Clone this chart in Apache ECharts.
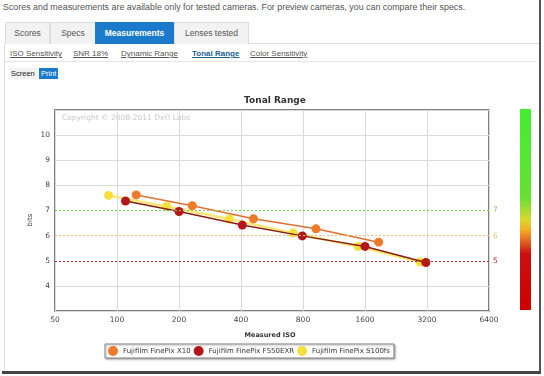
<!DOCTYPE html>
<html>
<head>
<meta charset="utf-8">
<script src="https://cdn.jsdelivr.net/npm/echarts@6/dist/echarts.min.js"></script>
<style>
  body { margin: 0; background: #fff; font-family: 'Liberation Sans', Arial, sans-serif; }
  #page { position: relative; width: 544px; height: 376px; overflow: hidden; }
  .abs { position: absolute; white-space: nowrap; }
  #intro { left: 3px; top: 2px; font-size: 8.9px; color: #555; }
  .tab { top: 22px; height: 21px; line-height: 21px; font-size: 8.5px; color: #555; text-align: center;
         background: #f2f2f2; border: 1px solid #ddd; border-bottom: none; }
  .tab.on { background: #1b7acc; color: #fff; font-weight: bold; border-color: #1b7acc; }
  #panel { left: 4px; top: 43px; width: 534px; height: 328px; border-left: 1px solid #ddd; border-top: 1px solid #ddd; }
  #sep { left: 5px; top: 61px; width: 532px; height: 0; border-top: 1px solid #e4e4e4; }
  #frameR { left: 539px; top: 0; width: 2px; height: 374px; background: #555; }
  #frameB { left: 2px; top: 371px; width: 539px; height: 3px; background: #444; }
  .sub { top: 49px; font-size: 8px; color: #555; text-decoration: underline; }
  .sub.on { color: #1d5f95; font-weight: bold; }
  .mode { top: 68px; height: 11px; line-height: 11px; font-size: 7.5px; padding: 0 2px; }
  #chart { position: absolute; left: 0; top: 0; width: 544px; height: 376px; }
</style>
</head>
<body>
<div id="page">
  <div class="abs" id="intro">Scores and measurements are available only for tested cameras. For preview cameras, you can compare their specs.</div>
  <div class="abs" id="panel"></div>
  <div class="abs" id="sep"></div>
  <div class="abs" id="frameR"></div>
  <div class="abs" id="frameB"></div>
  <div class="abs tab" style="left:5px;width:43px">Scores</div>
  <div class="abs tab" style="left:50px;width:44px">Specs</div>
  <div class="abs tab on" style="left:95px;width:77px">Measurements</div>
  <div class="abs tab" style="left:174px;width:73px">Lenses tested</div>
  <div class="abs sub" style="left:10px">ISO Sensitivity</div>
  <div class="abs sub" style="left:73px">SNR 18%</div>
  <div class="abs sub" style="left:121px">Dynamic Range</div>
  <div class="abs sub on" style="left:192px">Tonal Range</div>
  <div class="abs sub" style="left:250px">Color Sensitivity</div>
  <div class="abs mode" style="left:9px;background:#f2f2f2;color:#222">Screen</div>
  <div class="abs mode" style="left:39px;background:#1b7acc;color:#fff">Print</div>
  <div id="chart"></div>
</div>
<script>
// measured ISO / tonal range (bits)
const x10Iso = [124, 232, 460, 925, 1864]
const x10Bits = [7.62, 7.19, 6.67, 6.27, 5.74]
const f550Iso = [110, 200, 406, 794, 1600, 3160]
const f550Bits = [7.38, 6.96, 6.42, 5.99, 5.57, 4.93]
const s100Iso = [91, 174, 351, 717, 1483, 2962]
const s100Bits = [7.6, 7.16, 6.66, 6.1, 5.57, 4.95]

const isoTicks = [50, 100, 200, 400, 800, 1600, 3200, 6400]
const refLevels = [7, 6, 5]
const refColors = ['#7ccc55', '#e8c070', '#b02a30']

const names = ['Fujifilm FinePix X10', 'Fujifilm FinePix F550EXR', 'Fujifilm FinePix S100fs']
const markerColors = ['#ee7a2a', '#b5161a', '#f5df3a']
const lineColors = ['#e07032', '#8a1e10', '#f9e77a']

// x is placed as log2(iso / 50) on a linear axis
const toPts = (iso, bits) => iso.map((v, i) => [Math.log2(v / isoTicks[0]), bits[i]])

const chart = echarts.init(document.getElementById('chart'))
const font = "'DejaVu Sans', Verdana, sans-serif"

const seriesData = [
  { data: toPts(s100Iso, s100Bits), idx: 2, w: 2.5, z: 2 },
  { data: toPts(x10Iso, x10Bits), idx: 0, w: 1.5, z: 3 },
  { data: toPts(f550Iso, f550Bits), idx: 1, w: 1.5, z: 4 }
].map(s => ({
  name: names[s.idx],
  type: 'line',
  data: s.data,
  z: s.z,
  symbol: 'circle',
  symbolSize: 9,
  animation: false,
  itemStyle: { color: markerColors[s.idx], borderWidth: 0 },
  lineStyle: { color: lineColors[s.idx], width: s.w }
}))

seriesData.unshift({
  type: 'line',
  data: [],
  silent: true,
  markLine: {
    symbol: 'none',
    silent: true,
    animation: false,
    data: refLevels.map((v, i) => ({
      yAxis: v,
      lineStyle: { color: refColors[i], type: [2, 2], width: 1, opacity: 1 },
      label: { show: true, position: 'end', formatter: String(v), color: refColors[i], fontSize: 7.5, fontFamily: font, distance: 4 }
    }))
  }
})

const splitColors = [3, 4, 5, 6, 7, 8, 9, 10, 11].map(v => refLevels.includes(v) ? 'rgba(0,0,0,0)' : '#dadada')

chart.setOption({
  animation: false,
  title: {
    text: 'Tonal Range',
    left: 270,
    top: 91,
    textAlign: 'center',
    textStyle: { fontSize: 9, fontWeight: 'bold', color: '#333', fontFamily: font }
  },
  grid: {
    left: 55, top: 110, width: 434, height: 201,
    show: true, borderColor: '#555', borderWidth: 1.5, backgroundColor: 'rgba(0,0,0,0)'
  },
  xAxis: {
    type: 'value',
    min: 0, max: 7, interval: 1,
    axisLine: { show: false },
    axisTick: { show: false },
    axisLabel: {
      formatter: v => String(isoTicks[Math.round(v)]),
      fontSize: 7.5, color: '#444', fontFamily: font, margin: 5
    },
    splitLine: { lineStyle: { color: '#dadada', width: 1 } }
  },
  yAxis: {
    type: 'value',
    min: 3, max: 11, interval: 1,
    axisLine: { show: false },
    axisTick: { show: false },
    axisLabel: {
      formatter: v => (v > 3 && v < 11 ? String(v) : ''),
      fontSize: 7.5, color: '#444', fontFamily: font, margin: 5
    },
    splitLine: { lineStyle: { color: splitColors, width: 1 } }
  },
  legend: {
    data: names,
    left: 105, top: 344,
    padding: [2, 4, 2, 3],
    itemGap: 3,
    itemWidth: 10, itemHeight: 10,
    icon: 'circle',
    backgroundColor: '#fff',
    borderColor: '#888', borderWidth: 1,
    shadowColor: 'rgba(0,0,0,0.35)', shadowBlur: 2, shadowOffsetX: 1, shadowOffsetY: 1,
    textStyle: { fontSize: 7, color: '#333', fontFamily: font, width: 94, overflow: 'truncate' }
  },
  graphic: [
    {
      type: 'text', left: 62, top: 114, silent: true,
      style: { text: 'Copyright © 2008-2011 DxO Labs', fill: '#c8c8c8', fontSize: 7.5, fontFamily: font }
    },
    {
      type: 'text', x: 30, y: 220, rotation: Math.PI / 2, silent: true,
      style: { text: 'bits', fill: '#333', fontSize: 7, fontFamily: font, align: 'center', verticalAlign: 'middle' }
    },
    {
      type: 'text', x: 270, y: 335, silent: true,
      style: { text: 'Measured ISO', fill: '#333', fontSize: 6.5, fontWeight: 'bold', fontFamily: font, align: 'center', verticalAlign: 'middle' }
    },
    {
      type: 'rect', shape: { x: 520, y: 109, width: 11, height: 201 }, silent: true,
      style: {
        fill: new echarts.graphic.LinearGradient(0, 0, 0, 1, [
          { offset: 0, color: '#44ee33' },
          { offset: 0.44, color: '#66e033' },
          { offset: 0.55, color: '#d8d830' },
          { offset: 0.6, color: '#f5b025' },
          { offset: 0.66, color: '#e06020' },
          { offset: 0.72, color: '#cc1010' },
          { offset: 1, color: '#cc0000' }
        ])
      }
    }
  ],
  series: seriesData
})
</script>
</body>
</html>
